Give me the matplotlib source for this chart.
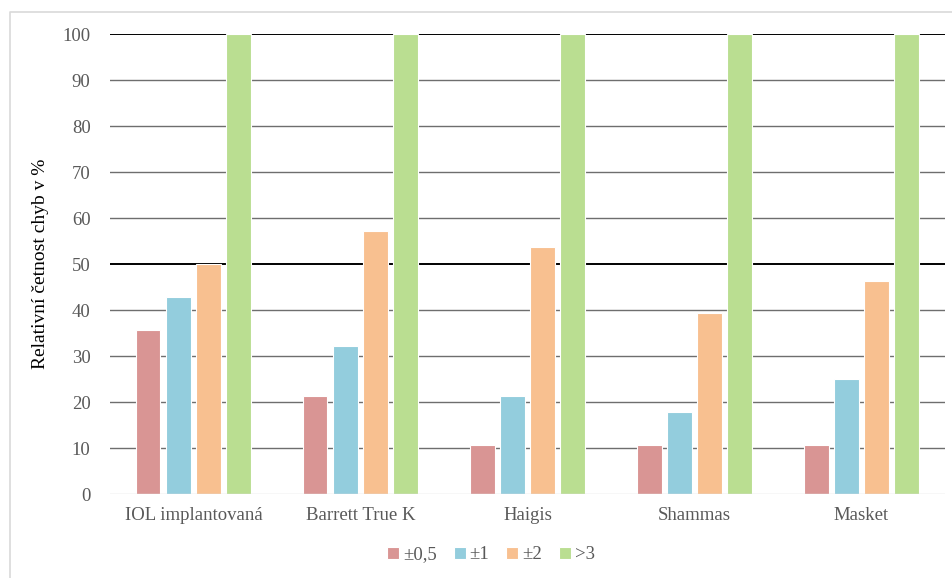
import matplotlib.pyplot as plt
import numpy as np
from matplotlib.lines import Line2D

plt.rcParams["font.family"] = ["Liberation Serif", "DejaVu Serif"]

categories = ["IOL implantovaná", "Barrett True K", "Haigis", "Shammas", "Masket"]
series_names = ["±0,5", "±1", "±2", ">3"]
err_05 = [35.7, 21.4, 10.7, 10.7, 10.7]
err_1 = [42.9, 32.1, 21.4, 17.9, 25.0]
err_2 = [50.0, 57.1, 53.6, 39.3, 46.4]
err_3 = [100.0, 100.0, 100.0, 100.0, 100.0]
yticks = list(range(0, 101, 10))

colors = ["#D99594", "#93CDDD", "#F8C090", "#BADE91"]

fig = plt.figure(figsize=(9.53, 5.78), dpi=100)
# light frame around the chart (left and top edges)
fig.add_artist(Line2D([0.011, 0.011, 1.0], [0.0, 0.979, 0.979], transform=fig.transFigure,
                      color="#D9D9D9", lw=1.2))
ax = fig.add_axes([0.1154, 0.1453, 0.8762, 0.7958])

x = np.arange(len(categories))
step = 0.18
width = 0.145
for i, (vals, name, c) in enumerate(zip([err_05, err_1, err_2, err_3], series_names, colors)):
    ax.bar(x + (i - 1.5) * step, vals, width, color=c, edgecolor="white",
           linewidth=0.8, label=name, zorder=3)

ax.set_xlim(-0.5, len(categories) - 0.5)
ax.set_ylim(0, 100)
ax.set_yticks(yticks)
for t in yticks[1:]:
    strong = t in (50, 100)
    ax.axhline(t, color="#000000" if strong else "#6E6E6E",
               lw=1.4 if strong else 1.0, zorder=1)
ax.axhline(0, color="#D9D9D9", lw=1.0, zorder=4)

for s in ax.spines.values():
    s.set_visible(False)
ax.tick_params(axis="both", length=0, labelsize=13.5, labelcolor="#595959")
ax.tick_params(axis="y", pad=14)
ax.tick_params(axis="x", pad=9)
ax.set_xticks(x)
ax.set_xticklabels(categories)
ax.set_ylabel("Relativní četnost chyb v %", fontsize=14, color="black", labelpad=10)

fig.legend(*ax.get_legend_handles_labels(), loc="center",
           bbox_to_anchor=(0.515, 0.04), ncol=4, frameon=False,
           fontsize=13.5, handlelength=0.65, handleheight=0.65, handletextpad=0.2,
           columnspacing=0.9, labelcolor="#595959")

fig.savefig("out.png", dpi=100)
